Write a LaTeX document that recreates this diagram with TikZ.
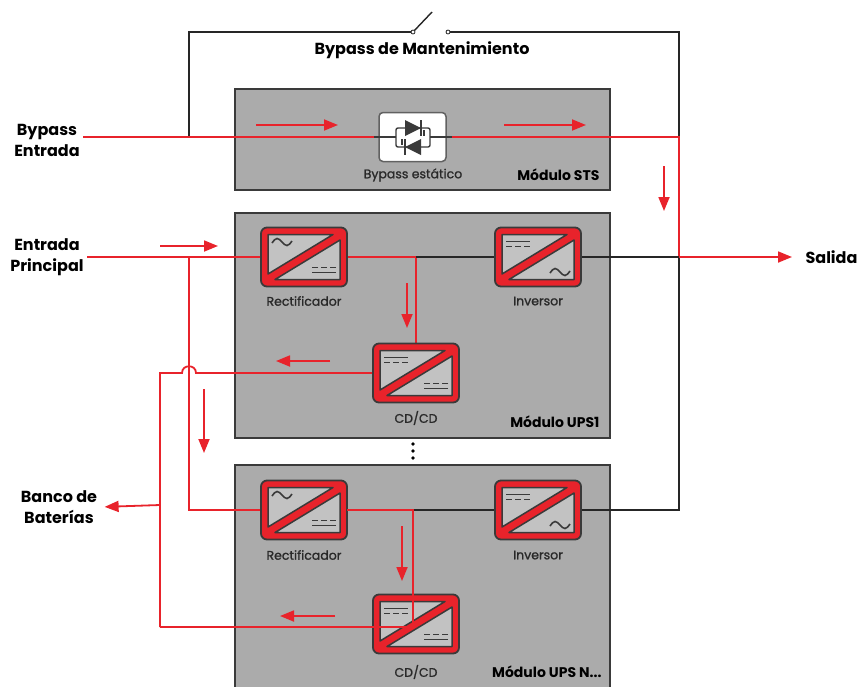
\documentclass[tikz,border=0pt]{standalone}
\usepackage{fontspec}
\setmainfont{Poppins}
\newfontfamily\medfont{Poppins}[FakeBold=1.2]
\usetikzlibrary{arrows.meta}
\definecolor{upsred}{HTML}{E8232B}
\definecolor{modgray}{HTML}{ABABAB}
\definecolor{edgegray}{HTML}{3A3A3A}
\definecolor{icongray}{HTML}{C2C2C2}
\begin{document}
\begin{tikzpicture}[x=1pt,y=-1pt,
  modbox/.style={draw=edgegray,fill=modgray,line width=1.8pt,inner sep=0pt,minimum width=375pt},
  convbox/.style={inner sep=0pt,minimum width=86pt,minimum height=59pt},
  redline/.style={draw=upsred,line width=1.8pt},
  blkline/.style={draw=black!85,line width=1.8pt},
  flow/.style={draw=upsred,line width=1.8pt,-{Triangle[length=14pt,width=11pt]}},
  modlabel/.style={font=\bfseries\fontsize{14}{16}\selectfont,anchor=east},
  partlabel/.style={font=\medfont\fontsize{12.5}{14}\selectfont,text=edgegray!70!black},
  sidelabel/.style={font=\bfseries\fontsize{16}{21}\selectfont,align=center},
  conv/.pic={
    \draw[fill=upsred,draw=edgegray,line width=1.8pt,rounded corners=6pt] (-43,-29.5) rectangle (43,29.5);
    \draw[fill=icongray,draw=edgegray,line width=1.5pt,line join=round] (-36,-22.5) -- (29,-22.5) -- (-36,17) -- cycle;
    \draw[fill=icongray,draw=edgegray,line width=1.5pt,line join=round] (36,-17) -- (36,22.5) -- (-29,22.5) -- cycle;
  },
  acsym/.pic={\draw[edgegray,line width=1.6pt] (-10,1) sin (-5,-3.5) cos (0,0) sin (5,3.5) cos (10,-1);},
  dcsym/.pic={
    \draw[edgegray,line width=1.5pt] (-12,-2.5) -- (12,-2.5);
    \draw[edgegray,line width=1.5pt,dash pattern=on 6pt off 3pt] (-12,2.5) -- (12,2.5);
  },
  rectico/.pic={\pic{conv}; \pic at (-22,-15) {acsym}; \pic[rotate=180] at (20,13) {dcsym};},
  invico/.pic={\pic{conv}; \pic at (-20,-13) {dcsym}; \pic at (22,15) {acsym};},
  dcdcico/.pic={\pic{conv}; \pic at (-20,-13) {dcsym}; \pic[rotate=180] at (20,13) {dcsym};}
]
\useasboundingbox (0,0) rectangle (858,686);

\node[modbox,minimum height=101pt] (sts) at (422.5,139.5) {};
\node[modbox,minimum height=225pt] (ups1) at (422.5,325.5) {};
\node[modbox,minimum height=223pt] (upsn) at (422.5,576.5) {};

\node[sidelabel] (bypin) at (47,140) {Bypass\\Entrada};
\node[sidelabel] (mainin) at (47,257) {Entrada\\Principal};
\node[sidelabel] (batt) at (59,507) {Banco de\\Baterías};
\node[sidelabel,anchor=west] (salida) at (802,257) {Salida};
\node[sidelabel] (mant) at (422,50) {Bypass de Mantenimiento};

\coordinate (bl) at (189,137);
\coordinate (br) at (679,137);
\coordinate (sw1) at (413,32);
\coordinate (sw2) at (448,32);
\coordinate (out) at (679,257);
\coordinate (inl) at (189,257);
\coordinate (jn) at (189,510);
\coordinate (tap1) at (416,257);
\coordinate (tapn) at (413,510);
\coordinate (bus1) at (160,373);
\coordinate (busn) at (160,627);
\coordinate (bat) at (160,505);

\node[draw=edgegray!80,fill=white,line width=1.5pt,rounded corners=4pt,minimum width=67pt,minimum height=49pt] (swbox) at (412.5,137) {};
\node[convbox] (rec1) at (304,257) {};
\node[convbox] (inv1) at (538,257) {};
\node[convbox] (dc1) at (416,373) {};
\node[convbox] (recn) at (304,510) {};
\node[convbox] (invn) at (538,510) {};
\node[convbox] (dcn) at (416,624) {};

\draw[blkline] (bl) |- (sw1);
\draw[blkline] (sw2) -| (br);
\draw[black!85,line width=1.4pt] (sw1) -- (432,12);
\filldraw[fill=white,draw=black!85,line width=0.8pt] (sw1) circle (2pt) (sw2) circle (2pt);

\draw[redline] (bypin.east |- bl) -- (swbox.west);
\draw[redline] (swbox.east) -- (br) -- (out);
\draw[blkline] (inv1.east) -- (out);
\draw[blkline] (invn.east) -| (out);
\draw[flow,shorten >=10pt] (out) -- (salida.west);

\draw[redline] (mainin.east) -- (rec1.west);
\draw[redline] (inl) -- (jn) -- (recn.west);
\draw[redline] (rec1.east) -- (tap1) -- (dc1.north);
\draw[blkline] (tap1) -- (inv1.west);
\draw[blkline] (tapn) -- (invn.west);
\draw[redline] (dc1.west) -- (196,373) .. controls (196,364) and (182,364) .. (182,373) -- (bus1) -- (busn);
\draw[flow,shorten >=4pt] (bat) -- (batt.east);

\draw[edgegray,line width=1.4pt] (374,137) -- (396,137) (430,137) -- (452,137);
\draw[edgegray,line width=1.4pt,rounded corners=2pt] (396,128) rectangle (430,147);
\fill[edgegray] (405,120) -- (405,136) -- (421,128) -- cycle (421,139) -- (421,155) -- (405,147) -- cycle;
\draw[edgegray,line width=1.4pt] (421,120) -- (421,136) (405,139) -- (405,155) (424,130) -- (424,136) (402,139) -- (402,145);

\pic at (rec1) {rectico};
\pic at (inv1) {invico};
\pic at (dc1) {dcdcico};
\pic at (recn) {rectico};
\pic at (invn) {invico};
\pic at (dcn) {dcdcico};

\draw[redline] (recn.east) -- (tapn) -- (413,627) -- (busn);

\foreach \xa/\ya/\xb/\yb in {256/125/338/125, 504/125/586/125, 664/166/664/211, 160/246/218/246, 407/283/407/328, 330/361/276/361, 204/389/204/453, 402/526/402/581, 335/616/280/616}
  \draw[flow] (\xa,\ya) -- (\xb,\yb);

\foreach \yd in {444,451,458}
  \fill[black] (413,\yd) circle (1.8pt);

\node[partlabel] (swlab) at (413,175) {Bypass estático};
\node[partlabel] (reclab1) at (304,301) {Rectificador};
\node[partlabel] (invlab1) at (538,301) {Inversor};
\node[partlabel] (dclab1) at (416,418) {CD/CD};
\node[partlabel] (reclabn) at (304,555) {Rectificador};
\node[partlabel] (invlabn) at (538,555) {Inversor};
\node[partlabel] (dclabn) at (416,672) {CD/CD};
\node[modlabel] (stslab) at (603,175) {Módulo STS};
\node[modlabel] (ups1lab) at (603,422) {Módulo UPS1};
\node[modlabel] (upsnlab) at (605,672) {Módulo UPS N...};
\end{tikzpicture}
\end{document}
